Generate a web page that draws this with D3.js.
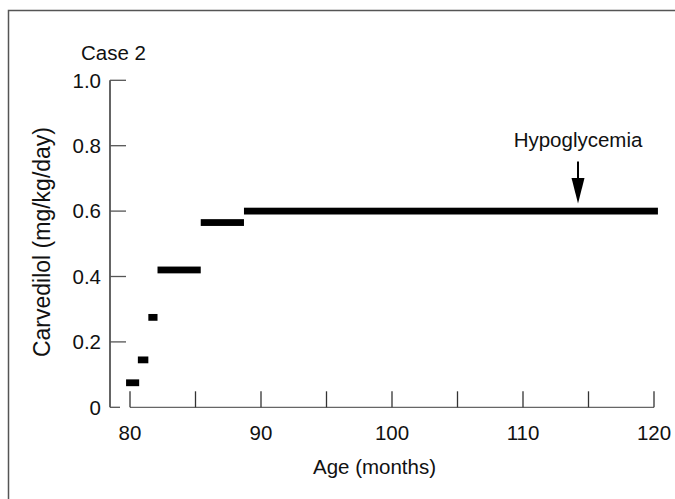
<!DOCTYPE html>
<html>
<head>
<meta charset="utf-8">
<script src="https://cdn.jsdelivr.net/npm/d3@7"></script>
<style>
  body { margin: 0; background: #fff; }
  text { font-family: "Liberation Sans", Arial, Helvetica, sans-serif; fill: #111; }
</style>
</head>
<body>
<svg id="chart"></svg>
<script>
// dose periods: start / end age (months) and carvedilol dose (mg/kg/day)
var doseStart = [79.7, 80.6, 81.4, 82.1, 85.4, 88.7];
var doseEnd   = [80.7, 81.4, 82.1, 85.4, 88.7, 120.3];
var doseValue = [0.075, 0.145, 0.275, 0.42, 0.565, 0.6];

var xTicks = [80, 85, 90, 95, 100, 105, 110, 115, 120];
var xTickLabels = [80, 90, 100, 110, 120];
var yTicks = [0, 0.2, 0.4, 0.6, 0.8, 1.0];
var yTickLabels = ["0", "0.2", "0.4", "0.6", "0.8", "1.0"];

var eventAge = 114.2;
var eventLabel = "Hypoglycemia";

var width = 675, height = 499;

function update_chart() {
    var chart = d3.select('#chart')
        .attr('width', width)
        .attr('height', height);

    var x = d3.scaleLinear().domain([80, 120]).range([130, 654]);
    var y = d3.scaleLinear().domain([0, 1]).range([407.3, 80.3]);

    // frame (right and bottom edges fall outside the picture)
    chart.append("rect")
        .attr("x", 8.5).attr("y", 10.5)
        .attr("width", 700).attr("height", 500)
        .attr("fill", "none")
        .attr("stroke", "#555")
        .attr("stroke-width", 1.5);

    // y axis
    chart.append("line")
        .attr("x1", 110).attr("x2", 110)
        .attr("y1", y(1)).attr("y2", y(0))
        .attr("stroke", "#111").attr("stroke-width", 1.3);

    chart.append("g")
        .selectAll("line")
        .data(yTicks)
        .enter()
        .append("line")
            .attr("x1", 110)
            .attr("x2", d => d === 0 ? 120 : 126)
            .attr("y1", d => y(d))
            .attr("y2", d => y(d))
            .attr("stroke", "#555")
            .attr("stroke-width", 1.3);

    chart.append("g")
        .selectAll("text")
        .data(yTicks)
        .enter()
        .append("text")
            .attr("x", 101)
            .attr("y", d => y(d))
            .attr("dy", "0.36em")
            .attr("text-anchor", "end")
            .style("font-size", "20.5px")
            .text((d, i) => yTickLabels[i]);

    // x axis
    chart.append("line")
        .attr("x1", x(80)).attr("x2", x(120))
        .attr("y1", y(0)).attr("y2", y(0))
        .attr("stroke", "#666").attr("stroke-width", 1.3);

    chart.append("g")
        .selectAll("line")
        .data(xTicks)
        .enter()
        .append("line")
            .attr("x1", d => x(d))
            .attr("x2", d => x(d))
            .attr("y1", y(0))
            .attr("y2", y(0) - 16)
            .attr("stroke", "#333")
            .attr("stroke-width", 1.3);

    chart.append("g")
        .selectAll("text")
        .data(xTickLabels)
        .enter()
        .append("text")
            .attr("x", d => x(d))
            .attr("y", 440)
            .attr("text-anchor", "middle")
            .style("font-size", "20.5px")
            .text(d => d);

    chart.append("text")
        .attr("x", 374.5)
        .attr("y", 474)
        .attr("text-anchor", "middle")
        .style("font-size", "20.5px")
        .text("Age (months)");

    chart.append("text")
        .attr("transform", "translate(49.5,242) rotate(-90)")
        .attr("text-anchor", "middle")
        .style("font-size", "23px")
        .text("Carvedilol (mg/kg/day)");

    chart.append("text")
        .attr("x", 81)
        .attr("y", 59.5)
        .style("font-size", "20.5px")
        .text("Case 2");

    // dose bars
    var bars = doseValue.map((v, i) => ({start: doseStart[i], end: doseEnd[i], dose: v}));
    chart.append("g")
        .selectAll("rect")
        .data(bars)
        .enter()
        .append("rect")
            .attr("x", d => x(d.start))
            .attr("width", d => x(d.end) - x(d.start))
            .attr("y", d => y(d.dose) - 3.4)
            .attr("height", 6.8)
            .attr("fill", "#000");

    // event arrow
    var ax = x(eventAge);
    chart.append("line")
        .attr("x1", ax).attr("x2", ax)
        .attr("y1", 161.5).attr("y2", 180)
        .attr("stroke", "#000").attr("stroke-width", 2);
    chart.append("path")
        .attr("d", "M" + (ax - 6.5) + ",178L" + (ax + 6.5) + ",178L" + ax + ",203.5Z")
        .attr("fill", "#000");
    chart.append("text")
        .attr("x", ax)
        .attr("y", 146.5)
        .attr("text-anchor", "middle")
        .style("font-size", "20.5px")
        .text(eventLabel);
}

update_chart();
</script>
</body>
</html>
